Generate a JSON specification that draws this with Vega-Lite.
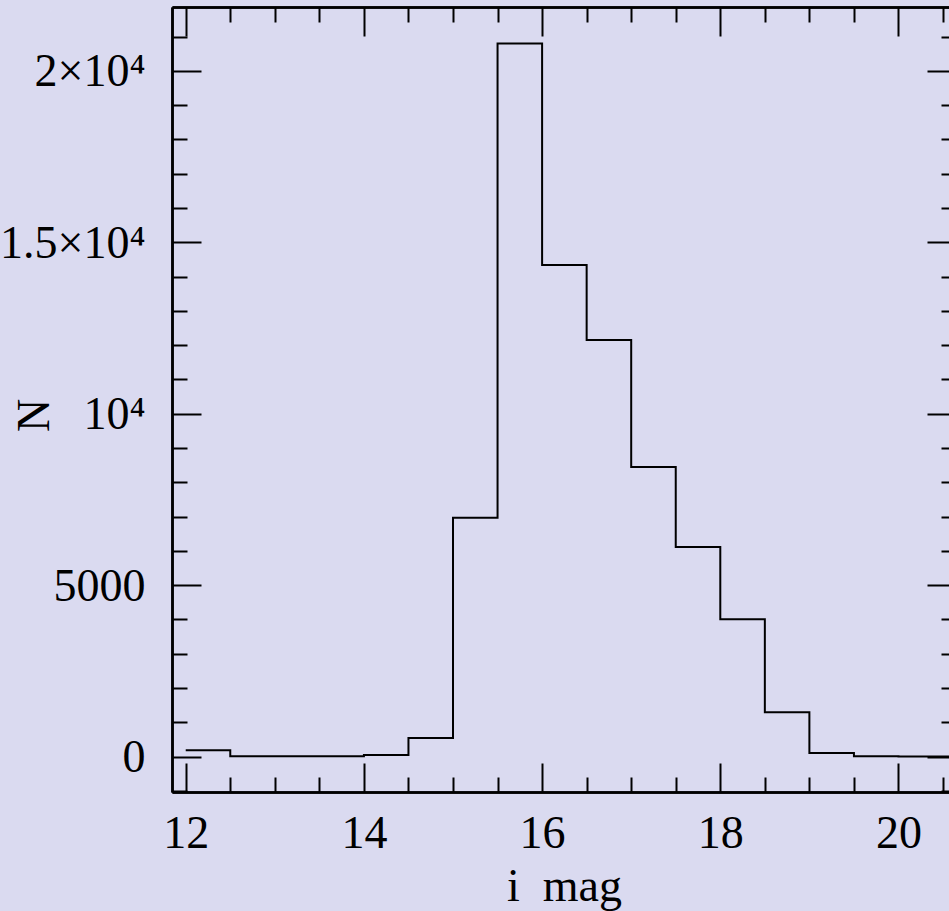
{
  "$schema": "https://vega.github.io/schema/vega-lite/v6.json",
  "autosize": "none",
  "padding": {"left": 172, "top": 7, "right": 0, "bottom": 120},
  "width": 777,
  "height": 785,
  "background": "#dadaf0",
  "config": {
    "view": {"stroke": null},
    "axis": {
      "grid": false,
      "domainColor": "black", "domainWidth": 2.5,
      "tickColor": "black", "tickWidth": 2,
      "labelOverlap": false, "labelFlush": false,
      "labelFont": "Liberation Serif", "labelFontSize": 46, "labelColor": "black",
      "titleFont": "Liberation Serif", "titleFontSize": 46, "titleFontWeight": "normal", "titleColor": "black"
    }
  },
  "data": {"values": [
    {"mag": 12.0, "n": 184},
    {"mag": 12.5, "n": 10},
    {"mag": 13.0, "n": 10},
    {"mag": 13.5, "n": 10},
    {"mag": 14.0, "n": 47},
    {"mag": 14.5, "n": 543},
    {"mag": 15.0, "n": 6964},
    {"mag": 15.5, "n": 20800},
    {"mag": 16.0, "n": 14340},
    {"mag": 16.5, "n": 12151},
    {"mag": 17.0, "n": 8444},
    {"mag": 17.5, "n": 6109},
    {"mag": 18.0, "n": 4008},
    {"mag": 18.5, "n": 1293},
    {"mag": 19.0, "n": 105},
    {"mag": 19.5, "n": 8},
    {"mag": 20.0, "n": 5},
    {"mag": 20.5, "n": 5},
    {"mag": 21.0, "n": 5}
  ]},
  "resolve": {"axis": {"x": "independent", "y": "independent"}},
  "layer": [
    {
      "mark": {"type": "line", "interpolate": "step-after", "color": "black", "strokeWidth": 2, "clip": true},
      "encoding": {
        "x": {
          "field": "mag", "type": "quantitative",
          "scale": {"domain": [11.846, 20.567], "nice": false, "zero": false},
          "axis": {
            "orient": "bottom",
            "values": [12, 14, 16, 18, 20],
            "tickSize": -29,
            "format": "d",
            "labelBaseline": "alphabetic", "labelPadding": 84,
            "title": "i\u2002mag",
            "titleX": 392, "titleY": 108, "titleBaseline": "alphabetic", "titleAlign": "center", "titleAngle": 0
          }
        },
        "y": {
          "field": "n", "type": "quantitative",
          "scale": {"domain": [-1033, 21862], "nice": false, "zero": false},
          "axis": {
            "orient": "left",
            "values": [0, 5000, 10000, 15000, 20000],
            "tickSize": -29,
            "labelExpr": "datum.value === 20000 ? '2×10⁴' : datum.value === 15000 ? '1.5×10⁴' : datum.value === 10000 ? '10⁴' : datum.value === 5000 ? '5000' : '0'",
            "labelBaseline": "alphabetic", "labelOffset": 15, "labelPadding": 56, "labelAlign": "right",
            "title": "N",
            "titleX": -124, "titleY": 408, "titleBaseline": "alphabetic", "titleAlign": "center", "titleAngle": -90
          }
        }
      }
    },
    {
      "mark": {"type": "line", "interpolate": "step-after", "opacity": 0, "clip": true},
      "encoding": {
        "x": {
          "field": "mag", "type": "quantitative",
          "scale": {"domain": [11.846, 20.567], "nice": false, "zero": false},
          "axis": {"orient": "top", "values": [12, 14, 16, 18, 20], "tickSize": -29, "labels": false, "title": null}
        },
        "y": {
          "field": "n", "type": "quantitative",
          "scale": {"domain": [-1033, 21862], "nice": false, "zero": false},
          "axis": {"orient": "right", "offset": 7, "values": [0, 5000, 10000, 15000, 20000], "tickSize": -29, "labels": false, "title": null}
        }
      }
    },
    {
      "mark": {"type": "line", "interpolate": "step-after", "opacity": 0, "clip": true},
      "encoding": {
        "x": {
          "field": "mag", "type": "quantitative",
          "scale": {"domain": [11.846, 20.567], "nice": false, "zero": false},
          "axis": {"orient": "bottom", "values": [12.5, 13, 13.5, 14.5, 15, 15.5, 16.5, 17, 17.5, 18.5, 19, 19.5, 20.5], "tickSize": -15, "labels": false, "title": null}
        },
        "y": {
          "field": "n", "type": "quantitative",
          "scale": {"domain": [-1033, 21862], "nice": false, "zero": false},
          "axis": {"orient": "left", "values": [-1000, 1000, 2000, 3000, 4000, 6000, 7000, 8000, 9000, 11000, 12000, 13000, 14000, 16000, 17000, 18000, 19000, 21000], "tickSize": -15, "labels": false, "title": null}
        }
      }
    },
    {
      "mark": {"type": "line", "interpolate": "step-after", "opacity": 0, "clip": true},
      "encoding": {
        "x": {
          "field": "mag", "type": "quantitative",
          "scale": {"domain": [11.846, 20.567], "nice": false, "zero": false},
          "axis": {"orient": "top", "values": [12.5, 13, 13.5, 14.5, 15, 15.5, 16.5, 17, 17.5, 18.5, 19, 19.5, 20.5], "tickSize": -15, "labels": false, "title": null}
        },
        "y": {
          "field": "n", "type": "quantitative",
          "scale": {"domain": [-1033, 21862], "nice": false, "zero": false},
          "axis": {"orient": "right", "offset": 7, "values": [-1000, 1000, 2000, 3000, 4000, 6000, 7000, 8000, 9000, 11000, 12000, 13000, 14000, 16000, 17000, 18000, 19000, 21000], "tickSize": -15, "labels": false, "title": null}
        }
      }
    }
  ]
}
